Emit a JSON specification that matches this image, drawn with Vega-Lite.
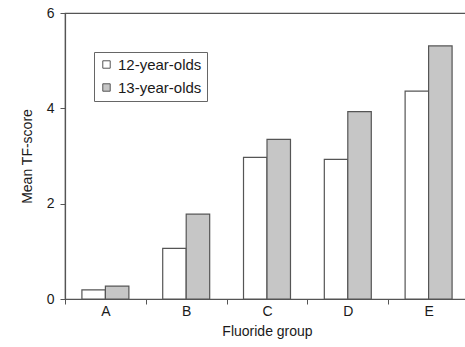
{
  "$schema": "https://vega.github.io/schema/vega-lite/v6.json",
  "autosize": {"type": "none"},
  "padding": {"left": 65, "top": 13, "right": 0, "bottom": 48},
  "width": 404,
  "height": 286,
  "background": "white",
  "config": {
    "font": "Liberation Sans",
    "view": {"stroke": "#555555", "strokeWidth": 1.2},
    "axis": {
      "domainColor": "#555555",
      "tickColor": "#555555",
      "labelColor": "#1a1a1a",
      "titleColor": "#1a1a1a",
      "labelFont": "Liberation Sans",
      "titleFont": "Liberation Sans",
      "titleFontWeight": "normal",
      "grid": false
    }
  },
  "data": {
    "values": [
      {"group": "A", "age": "12-year-olds", "score": 0.19},
      {"group": "A", "age": "13-year-olds", "score": 0.27},
      {"group": "B", "age": "12-year-olds", "score": 1.06},
      {"group": "B", "age": "13-year-olds", "score": 1.78},
      {"group": "C", "age": "12-year-olds", "score": 2.97},
      {"group": "C", "age": "13-year-olds", "score": 3.35},
      {"group": "D", "age": "12-year-olds", "score": 2.93},
      {"group": "D", "age": "13-year-olds", "score": 3.93},
      {"group": "E", "age": "12-year-olds", "score": 4.36},
      {"group": "E", "age": "13-year-olds", "score": 5.31}
    ]
  },
  "mark": {"type": "bar", "stroke": "#555555", "strokeWidth": 1.2},
  "encoding": {
    "x": {
      "field": "group",
      "type": "nominal",
      "scale": {"paddingInner": 0, "paddingOuter": 0},
      "axis": {
        "title": "Fluoride group",
        "labelAngle": 0,
        "labelFontSize": 14,
        "titleFontSize": 14,
        "tickBand": "extent",
        "tickSize": 5,
        "labelPadding": 0,
        "titlePadding": 6,
        "domainWidth": 1.2
      }
    },
    "xOffset": {
      "field": "age",
      "type": "nominal",
      "scale": {"paddingInner": 0, "paddingOuter": 0.72}
    },
    "y": {
      "field": "score",
      "type": "quantitative",
      "scale": {"domain": [0, 6], "nice": false},
      "axis": {
        "title": "Mean TF-score",
        "values": [0, 2, 4, 6],
        "labelFontSize": 14,
        "titleFontSize": 14,
        "tickSize": 5,
        "labelPadding": 6,
        "titlePadding": 12,
        "domainWidth": 1.2
      }
    },
    "fill": {
      "field": "age",
      "type": "nominal",
      "scale": {"range": ["#ffffff", "#c6c6c6"]},
      "legend": {
        "title": null,
        "orient": "none",
        "legendX": 29,
        "legendY": 39,
        "symbolType": "square",
        "symbolSize": 55,
        "symbolStrokeColor": "#555555",
        "symbolStrokeWidth": 1,
        "labelFontSize": 15,
        "labelColor": "#1a1a1a",
        "rowPadding": 7,
        "strokeColor": "#666666",
        "padding": 5
      }
    }
  }
}
